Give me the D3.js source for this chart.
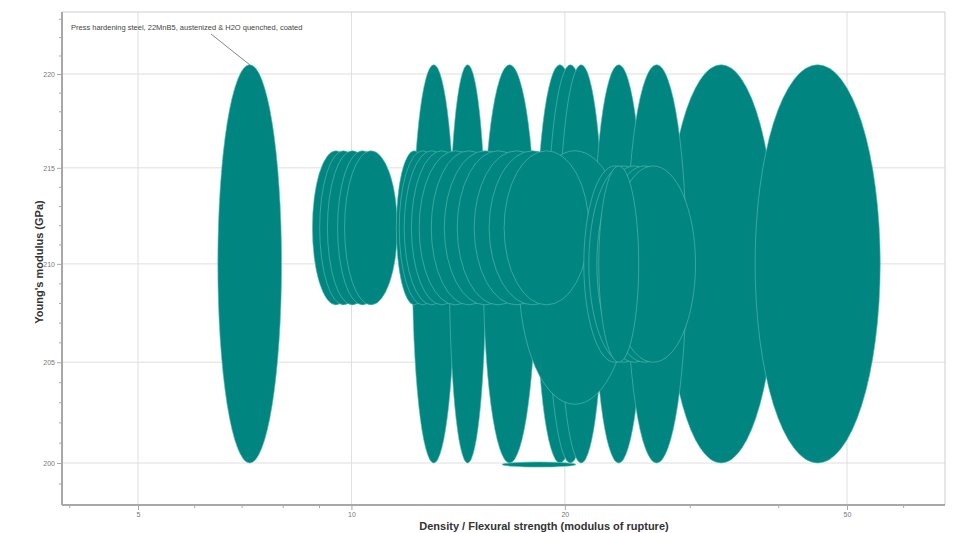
<!DOCTYPE html>
<html>
<head>
<meta charset="utf-8">
<script src="https://cdn.jsdelivr.net/npm/d3@7"></script>
<style>
  body { margin: 0; background: #fff; }
  svg { display: block; font-family: "Liberation Sans", Arial, sans-serif; }
</style>
</head>
<body>
<div id="chart"></div>
<script>
// Axis ticks
const xTicks = [5, 10, 20, 50];
const xMinorTicks = [4, 6, 7, 8, 9, 30, 40, 60];
const yTicks = [200, 205, 210, 215, 220];
const yMinorTicks = [199, 201, 202, 203, 204, 206, 207, 208, 209,
                     211, 212, 213, 214, 216, 217, 218, 219, 221, 222, 223];

// Material bubbles: ranges of x (density / flexural strength) and Young's modulus (GPa)
// listed in drawing order
const xLow  = [27.8, 37.1,
               6.48, 12.19, 13.74, 15.34, 18.21, 18.87, 19.6, 21.97, 24.45,
               17.23,
               8.81, 9.02, 9.25, 9.56, 9.78,
               11.57, 11.68, 11.87, 12.15, 12.46, 12.96, 13.52, 14.1, 14.9, 15.64, 16.42,
               21.27, 21.62, 22.19, 22.69, 23.22, 22.33,
               16.31];
const xHigh = [39.7, 55.7,
               7.97, 14.0, 15.48, 18.21, 21.27, 21.97, 22.69, 25.83, 29.69,
               24.77,
               10.26, 10.53, 10.88, 11.24, 11.61,
               13.0, 13.6, 14.19, 14.8, 15.79, 16.53, 17.63, 18.39, 19.6, 20.73, 21.62,
               26.0, 27.12, 28.28, 29.6, 30.57, 25.42,
               20.73];
const eLow  = [200, 200,
               200, 200, 200, 200, 200, 200, 200, 200, 200,
               202.9,
               207.9, 207.9, 207.9, 207.9, 207.9,
               207.9, 207.9, 207.9, 207.9, 207.9, 207.9, 207.9, 207.9, 207.9, 207.9, 207.9,
               205, 205, 205, 205, 205, 205,
               199.8];
const eHigh = [220.5, 220.5,
               220.5, 220.5, 220.5, 220.5, 220.5, 220.5, 220.5, 220.5, 220.5,
               215.9,
               215.9, 215.9, 215.9, 215.9, 215.9,
               215.9, 215.9, 215.9, 215.9, 215.9, 215.9, 215.9, 215.9, 215.9, 215.9, 215.9,
               215.1, 215.1, 215.1, 215.1, 215.1, 215.1,
               200.05];

const labelIndex = 2;
const labelText = "Press hardening steel, 22MnB5, austenized & H2O quenched, coated";

const width = 957, height = 533;
const margin = { top: 12, right: 12, bottom: 28, left: 62 };
const innerRight = width - margin.right;
const innerBottom = height - margin.bottom;

const x = d3.scaleLog().domain([5, 50]).range([138, 847]);
const y = d3.scaleLog().domain([200, 220]).range([463, 74]);

const svg = d3.select("#chart")
    .append("svg")
    .attr("width", width)
    .attr("height", height);

// Gridlines
svg.append("g")
    .selectAll("line")
    .data(xTicks)
    .join("line")
    .attr("x1", d => x(d)).attr("x2", d => x(d))
    .attr("y1", margin.top).attr("y2", innerBottom)
    .attr("stroke", "#dedede").attr("stroke-width", 1);

svg.append("g")
    .selectAll("line")
    .data(yTicks)
    .join("line")
    .attr("x1", margin.left).attr("x2", innerRight)
    .attr("y1", d => y(d)).attr("y2", d => y(d))
    .attr("stroke", "#dedede").attr("stroke-width", 1);

// Frame top / right
svg.append("path")
    .attr("d", `M${margin.left},${margin.top}H${innerRight}V${innerBottom}`)
    .attr("fill", "none")
    .attr("stroke", "#cfcfcf");

// Bubbles
const bubbles = d3.range(xLow.length).map(i => {
    const x0 = x(xLow[i]), x1 = x(xHigh[i]);
    const y0 = y(eLow[i]), y1 = y(eHigh[i]);
    return { cx: (x0 + x1) / 2, cy: (y0 + y1) / 2, rx: (x1 - x0) / 2, ry: (y0 - y1) / 2 };
});

svg.append("g")
    .selectAll("ellipse")
    .data(bubbles)
    .join("ellipse")
    .attr("cx", d => d.cx)
    .attr("cy", d => d.cy)
    .attr("rx", d => d.rx)
    .attr("ry", d => d.ry)
    .attr("fill", "#008580")
    .attr("stroke", "#5fbdb6")
    .attr("stroke-opacity", 0.75)
    .attr("stroke-width", 0.8);

// Axes
const xAxis = svg.append("g")
    .attr("transform", `translate(0,${innerBottom})`)
    .call(d3.axisBottom(x).tickValues(xTicks).tickFormat(d3.format("d")).tickSize(5).tickPadding(2));
svg.append("g")
    .attr("transform", `translate(0,${innerBottom})`)
    .call(d3.axisBottom(x).tickValues(xMinorTicks).tickFormat("").tickSize(3))
    .call(g => g.select(".domain").remove());

const yAxis = svg.append("g")
    .attr("transform", `translate(${margin.left},0)`)
    .call(d3.axisLeft(y).tickValues(yTicks).tickFormat(d3.format("d")).tickSize(5).tickPadding(2));
svg.append("g")
    .attr("transform", `translate(${margin.left},0)`)
    .call(d3.axisLeft(y).tickValues(yMinorTicks).tickFormat("").tickSize(3))
    .call(g => g.select(".domain").remove());

svg.selectAll(".tick line").attr("stroke", "#a8a8a8");
svg.selectAll(".tick text").attr("fill", "#777").attr("font-size", "7px")
    .attr("font-family", "Liberation Sans, Arial, sans-serif");

xAxis.select(".domain")
    .attr("d", `M${margin.left},0H${innerRight}`)
    .attr("stroke", "#a8a8a8").attr("stroke-width", 2);
yAxis.select(".domain")
    .attr("d", `M0,${margin.top}V${innerBottom}`)
    .attr("stroke", "#a8a8a8").attr("stroke-width", 2);

// Axis titles
svg.append("text")
    .attr("x", 544)
    .attr("y", 530)
    .attr("text-anchor", "middle")
    .attr("font-size", "11px")
    .attr("font-weight", "bold")
    .attr("fill", "#333")
    .text("Density / Flexural strength (modulus of rupture)");

svg.append("text")
    .attr("transform", `translate(43,262) rotate(-90)`)
    .attr("text-anchor", "middle")
    .attr("font-size", "11px")
    .attr("font-weight", "bold")
    .attr("fill", "#333")
    .text("Young's modulus (GPa)");

// Annotation
const lb = bubbles[labelIndex];
svg.append("line")
    .attr("x1", 211).attr("y1", 34)
    .attr("x2", lb.cx).attr("y2", lb.cy - lb.ry)
    .attr("stroke", "#666").attr("stroke-width", 0.8);

svg.append("text")
    .attr("x", 71)
    .attr("y", 30)
    .attr("font-size", "7.5px")
    .attr("fill", "#444")
    .text(labelText);
</script>
</body>
</html>
